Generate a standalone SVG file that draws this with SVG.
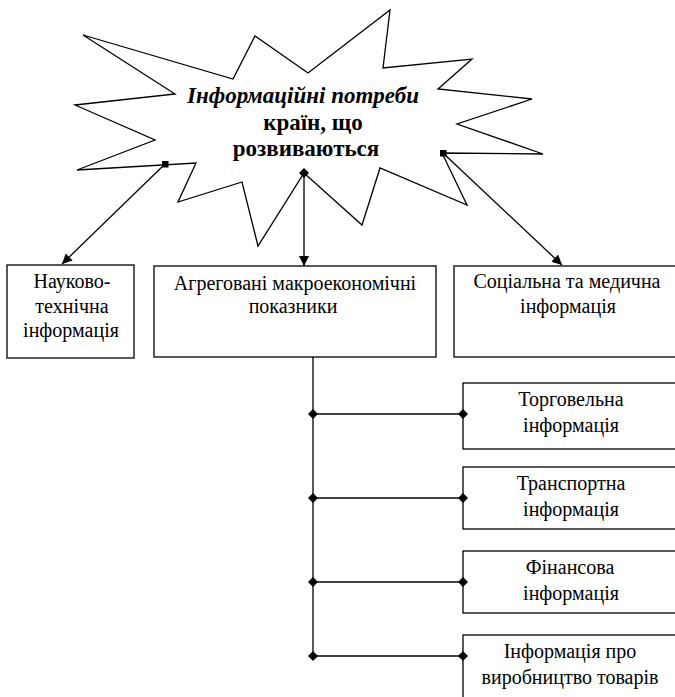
<svg xmlns="http://www.w3.org/2000/svg" width="675" height="697" viewBox="0 0 675 697">
<style>
.box{fill:#fff;stroke:#000;stroke-width:1.3}
.ln{fill:none;stroke:#000;stroke-width:1.3}
.t{font-family:'Liberation Serif','DejaVu Serif',serif;font-size:20px;fill:#000;text-anchor:middle}
.h{font-family:'Liberation Serif','DejaVu Serif',serif;font-size:23px;font-weight:bold;fill:#000;text-anchor:middle}
</style>
<defs>
<marker id="arr" viewBox="0 0 10 10" refX="10" refY="5" markerWidth="10" markerHeight="10" markerUnits="userSpaceOnUse" orient="auto">
<path d="M0,0 L10,5 L0,10 z" fill="#000"/>
</marker>
<marker id="sq" viewBox="0 0 8 8" refX="4" refY="4" markerWidth="7" markerHeight="7" markerUnits="userSpaceOnUse">
<rect x="0" y="0" width="8" height="8" fill="#000"/>
</marker>
<marker id="dia" viewBox="0 0 10 10" refX="5" refY="5" markerWidth="10" markerHeight="10" markerUnits="userSpaceOnUse">
<path d="M5,0 L10,5 L5,10 L0,5 z" fill="#000"/>
</marker>
</defs>
<rect width="675" height="697" fill="#fff"/>

<g id="star">
<polygon class="ln" style="fill:#fff" points="83,35 233,79 255,36 308,73 390,10 383,68 472,59 438,89 532,99 457,124 543,154 442,153 467,205 380,168 362,225 304,173 258,246 242,182 178,202 196,163 77,170 155,140 75,105 175,94"/>
<text class="h" x="303" y="103" font-style="italic">Інформаційні потреби</text>
<text class="h" x="313" y="130">країн, що</text>
<text class="h" x="306" y="156">розвиваються</text>
</g>

<g id="n1">
<rect class="box" x="7" y="265" width="127" height="93"/>
<text class="t" x="72" y="288">Науково-</text>
<text class="t" x="72" y="313">технічна</text>
<text class="t" x="71" y="337">інформація</text>
</g>

<g id="n2">
<rect class="box" x="154" y="266" width="282" height="91"/>
<text class="t" x="295" y="290">Агреговані макроекономічні</text>
<text class="t" x="293" y="313">показники</text>
</g>

<g id="n3">
<rect class="box" x="454" y="266" width="230" height="91"/>
<text class="t" x="567" y="288">Соціальна та медична</text>
<text class="t" x="568" y="313">інформація</text>
</g>

<g id="n4">
<rect class="box" x="463" y="383" width="220" height="66"/>
<text class="t" x="571" y="406">Торговельна</text>
<text class="t" x="571" y="432">інформація</text>
</g>

<g id="n5">
<rect class="box" x="463" y="467" width="220" height="62"/>
<text class="t" x="571" y="490">Транспортна</text>
<text class="t" x="571" y="516">інформація</text>
</g>

<g id="n6">
<rect class="box" x="463" y="551" width="220" height="62"/>
<text class="t" x="570" y="574">Фінансова</text>
<text class="t" x="571" y="600">інформація</text>
</g>

<g id="n7">
<rect class="box" x="463" y="635" width="220" height="80"/>
<text class="t" x="570" y="658">Інформація про</text>
<text class="t" x="570" y="684">виробництво товарів</text>
</g>

<g id="connectors">
<line class="ln" x1="165" y1="164" x2="62" y2="264" marker-start="url(#sq)" marker-end="url(#arr)"/>
<line class="ln" x1="304" y1="173" x2="304" y2="266" marker-start="url(#dia)" marker-end="url(#arr)"/>
<line class="ln" x1="443" y1="153" x2="562" y2="265" marker-start="url(#sq)" marker-end="url(#arr)"/>
<line class="ln" x1="313" y1="357" x2="313" y2="656"/>
<line class="ln" x1="313" y1="414" x2="463" y2="414" marker-start="url(#dia)" marker-end="url(#dia)"/>
<line class="ln" x1="313" y1="498" x2="463" y2="498" marker-start="url(#dia)" marker-end="url(#dia)"/>
<line class="ln" x1="313" y1="582" x2="463" y2="582" marker-start="url(#dia)" marker-end="url(#dia)"/>
<line class="ln" x1="313" y1="656" x2="463" y2="656" marker-start="url(#dia)" marker-end="url(#dia)"/>
</g>
</svg>
